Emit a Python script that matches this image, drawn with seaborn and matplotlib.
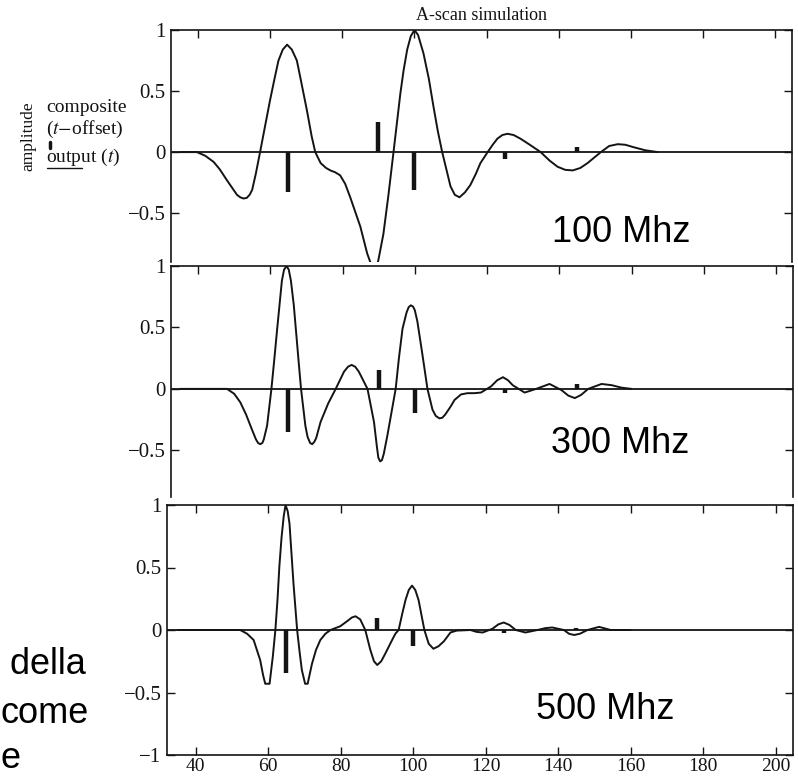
import matplotlib
matplotlib.use("Agg")
import matplotlib.pyplot as plt
import seaborn as sns
import pandas as pd

# ---------------- data ----------------
x_100 = [35, 39.7, 42, 44.3, 46, 48, 50.8, 51.7, 52.6, 53.5, 54.3, 55, 56, 57.2, 58.5, 60, 61.2, 62.3, 63.5, 64.7,
         66, 67.4, 68.3, 70.2, 71.5, 72.5, 74, 75.5, 76.7, 78, 79.4, 80.8, 82.2, 83.6, 85, 86.9, 88.6,
         89.3, 90, 91.4, 92.8, 94.2, 96.1, 97, 98, 99, 100, 101, 102.5, 104, 105.3, 106.5, 107.7,
         110, 111.2, 112.5, 114, 115.5, 117, 118.3, 120.3, 121.7, 123, 124.4, 125.8, 127.5, 129.4, 132, 135,
         137.5, 139.7, 141.8, 143.9, 146, 148, 151.7, 154, 156.4, 158.5, 160.8, 164, 167.5]
y_100 = [0, 0, -0.03, -0.08, -0.14, -0.23, -0.35, -0.37, -0.38, -0.375, -0.35, -0.31, -0.18, 0, 0.2, 0.43, 0.6, 0.75, 0.84, 0.88,
         0.84, 0.75, 0.62, 0.34, 0.13, 0, -0.09, -0.13, -0.15, -0.165, -0.19, -0.26, -0.37, -0.49, -0.61, -0.83, -0.97,
         -0.96, -0.885, -0.67, -0.35, 0, 0.48, 0.67, 0.84, 0.95, 1.0, 0.96, 0.81, 0.6, 0.37, 0.17, 0,
         -0.28, -0.35, -0.37, -0.33, -0.27, -0.18, -0.09, 0, 0.06, 0.11, 0.14, 0.15, 0.14, 0.11, 0.06, 0,
         -0.07, -0.12, -0.145, -0.15, -0.13, -0.09, 0, 0.05, 0.065, 0.06, 0.04, 0.015, 0]

x_300 = [35, 48, 50, 51.7, 53.3, 54.9, 56, 56.6, 57.2, 57.8, 58.2, 59.1, 60.3, 61.1, 61.9, 62.6, 63.2, 63.8, 64.5, 65.1,
         65.7, 66.5, 67.2, 67.9, 68.5, 69.7, 70.3, 71, 71.6, 72.2, 72.7, 73.9, 76, 78.1, 80.4, 81.5, 82.5, 83.5, 84.5, 86.9,
         88.7, 89.5, 89.9, 90.4, 90.9, 91.4, 92.4, 94.7, 95.6, 96.6, 97.7, 98.3, 98.9, 99.5, 100, 100.7, 102.1, 103.5, 104.9,
         105.8, 106.8, 107.6, 108.4, 110, 111, 112.8, 114.6, 116.5, 118.3, 121.1, 122.8, 124.4, 125.8, 127.1, 130.4,
         133.6, 137.3, 140.6, 142.5, 144.3, 146, 148, 151.7, 154.5, 157.2, 160]
y_300 = [0, 0, -0.04, -0.11, -0.21, -0.33, -0.41, -0.44, -0.45, -0.44, -0.41, -0.30, 0, 0.24, 0.49, 0.70, 0.88, 0.97, 1.0, 0.97,
         0.88, 0.68, 0.44, 0.2, 0, -0.30, -0.39, -0.44, -0.45, -0.43, -0.40, -0.27, -0.12, 0, 0.14, 0.18, 0.195, 0.18, 0.14, 0,
         -0.27, -0.47, -0.56, -0.59, -0.58, -0.53, -0.38, 0, 0.25, 0.49, 0.62, 0.665, 0.68, 0.67, 0.64, 0.55, 0.28, 0, -0.17,
         -0.22, -0.24, -0.235, -0.21, -0.14, -0.09, -0.045, -0.035, -0.035, -0.03, 0.02, 0.07, 0.095, 0.07, 0.03, -0.03,
         0, 0.04, -0.01, -0.055, -0.075, -0.05, 0, 0.04, 0.03, 0.01, 0]

x_500 = [35, 52.3, 54.2, 56, 57.8, 58.6, 59.2, 60.4, 61.3, 62, 62.6, 63.1, 63.7, 64.3, 64.8, 65.4, 65.9, 66.4,
         67, 68, 68.7, 69.3, 70.2, 70.9, 72.1, 73.2, 74.4, 75.8, 77.2, 79.9, 82, 83.1, 84.1, 85.4, 86.8, 88.2,
         89.2, 90.1, 91.2, 92.3, 94.2, 95.1, 96, 97, 97.9, 98.8, 99.7, 100.6, 101.5, 102.3, 103.1, 104.3,
         105.6, 107, 108.5, 110.3, 112, 115.8, 117.5, 119.2, 121.9, 123.5, 125, 126.6, 128.3, 131, 134.3,
         136.5, 138.4, 141.6, 143, 144.4, 146, 148.1, 151.3, 154.5, 160]
y_500 = [0, 0, -0.03, -0.08, -0.24, -0.36, -0.43, -0.43, -0.21, 0, 0.25, 0.51, 0.74, 0.91, 1.0, 0.95, 0.85, 0.63,
         0.37, 0, -0.18, -0.32, -0.43, -0.43, -0.27, -0.16, -0.08, -0.03, 0, 0.03, 0.075, 0.1, 0.11, 0.085, 0, -0.16,
         -0.25, -0.28, -0.25, -0.19, -0.08, -0.03, 0, 0.13, 0.24, 0.32, 0.355, 0.32, 0.24, 0.12, 0, -0.11,
         -0.15, -0.13, -0.09, -0.02, -0.005, 0, -0.015, -0.02, 0.01, 0.045, 0.06, 0.04, 0, -0.02, 0,
         0.015, 0.02, 0, -0.03, -0.04, -0.03, 0, 0.025, 0, 0]

stick_x = [65, 90, 100, 125, 145]
stick_100 = [-0.33, 0.25, -0.31, -0.055, 0.045]
stick_300 = [-0.35, 0.15, -0.20, -0.03, 0.04]
stick_500 = [-0.34, 0.095, -0.125, -0.025, 0.02]

panel_labels = ["100 Mhz", "300 Mhz", "500 Mhz"]
x_ticks = [40, 60, 80, 100, 120, 140, 160, 180, 200]
y_ticks_upper = [-0.5, 0, 0.5, 1]
y_ticks_lower = [-1, -0.5, 0, 0.5, 1]
y_ticklabels_upper = ["\u22120.5", "0", "0.5", "1"]
y_ticklabels_lower = ["\u22121", "\u22120.5", "0", "0.5", "1"]
title = "A-scan simulation"
side_words = [" della", "come", "e"]

# ---------------- styling ----------------
sns.set_theme(style="ticks")
plt.rcParams["font.family"] = ["Liberation Serif", "DejaVu Serif"]
plt.rcParams["mathtext.fontset"] = "stix"
plt.rcParams["axes.unicode_minus"] = True

W, H = 798, 776
fig = plt.figure(figsize=(W / 100, H / 100), dpi=100)
INK = "#141414"


def ax_at(l, t, r, b):
    return fig.add_axes([l / W, 1 - b / H, (r - l) / W, (b - t) / H])


def ftext(x, y, s, **kw):
    return fig.text(x / W, 1 - y / H, s, **kw)


panels = [
    dict(box=(171, 30, 792, 262), xlim=(32.5, 204.7), ylim=(-0.9, 1.0), x=x_100, y=y_100,
         sticks=stick_100, last=False),
    dict(box=(171, 266, 793, 497), xlim=(32.5, 204.7), ylim=(-0.88, 1.0), x=x_300, y=y_300,
         sticks=stick_300, last=False),
    dict(box=(167, 505, 793, 755), xlim=(32.1, 204.8), ylim=(-1.0, 1.0), x=x_500, y=y_500,
         sticks=stick_500, last=True),
]

for p in panels:
    ax = ax_at(*p["box"])
    ax.set_facecolor("none")
    df = pd.DataFrame({"t": p["x"], "amp": p["y"]})
    ax.axhline(0, color=INK, lw=1.3, zorder=1)
    sns.lineplot(data=df, x="t", y="amp", sort=False, estimator=None, color=INK, lw=1.4, ax=ax, zorder=3)
    ax.vlines(stick_x, 0, p["sticks"], color=INK, lw=3.2, zorder=2)
    ax.set_xlim(*p["xlim"])
    ax.set_ylim(*p["ylim"])
    ax.set_xlabel("")
    ax.set_ylabel("")
    ax.set_xticks(x_ticks)
    if p["last"]:
        ax.set_yticks(y_ticks_lower)
        ax.set_yticklabels(y_ticklabels_lower)
        ax.set_xticklabels([str(v) for v in x_ticks])
        ax.tick_params(axis="x", which="both", direction="in", length=6, width=1.0,
                       top=True, bottom=True, labelsize=14, pad=2, colors=INK)
    else:
        ax.set_yticks(y_ticks_upper)
        ax.set_yticklabels(y_ticklabels_upper)
        ax.tick_params(axis="x", which="both", direction="in", length=6, width=1.0,
                       top=True, bottom=False, labelbottom=False, colors=INK)
        ax.spines["bottom"].set_visible(False)
    ax.tick_params(axis="y", which="both", direction="in", length=6, width=1.0,
                   left=True, right=True, labelsize=15, pad=4, colors=INK)
    for side in ["left", "right", "top", "bottom"]:
        ax.spines[side].set_linewidth(1.2)
        ax.spines[side].set_color(INK)

# ---------------- texts ----------------
ftext(481, 15, title, ha="center", va="center", fontsize=13, color=INK)
ftext(28, 136, "amplitude", rotation=90, ha="center", va="center", fontsize=12.5, color=INK)
ftext(46, 107, "composite", ha="left", va="center", fontsize=14, color=INK)
ftext(46, 129, r"($t$$-$offset)", ha="left", va="center", fontsize=14, color=INK)
ftext(46, 157, r"output ($t$)", ha="left", va="center", fontsize=14, color=INK)
fig.add_artist(plt.Line2D([50 / W, 50 / W], [1 - 142 / H, 1 - 148 / H], color=INK, lw=2.5))
fig.add_artist(plt.Line2D([47 / W, 82 / W], [1 - 168 / H, 1 - 168 / H], color=INK, lw=1.0))

sans = ["Liberation Sans", "DejaVu Sans"]
ftext(552, 242, panel_labels[0], ha="left", va="baseline", fontsize=26, family=sans, color="black")
ftext(551, 453, panel_labels[1], ha="left", va="baseline", fontsize=26, family=sans, color="black")
ftext(536, 719, panel_labels[2], ha="left", va="baseline", fontsize=26, family=sans, color="black")
ftext(0, 674, side_words[0], ha="left", va="baseline", fontsize=26, family=sans, color="black")
ftext(1, 723, side_words[1], ha="left", va="baseline", fontsize=26, family=sans, color="black")
ftext(1, 768, side_words[2], ha="left", va="baseline", fontsize=26, family=sans, color="black")

fig.savefig("out.png", dpi=100, facecolor="white")
